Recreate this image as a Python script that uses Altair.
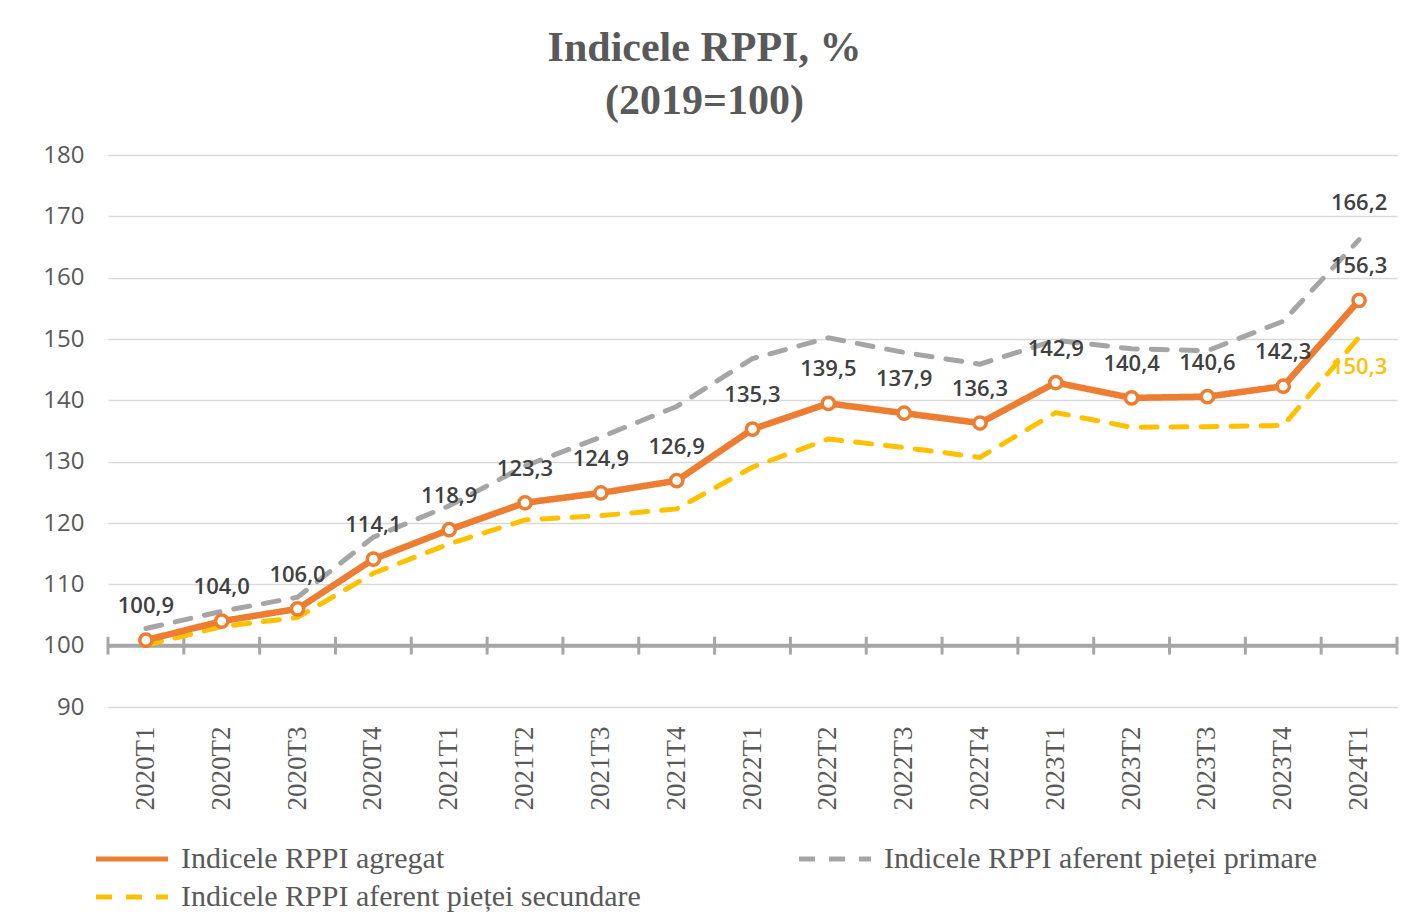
import altair as alt
import pandas as pd

quarters = ["2020T1", "2020T2", "2020T3", "2020T4", "2021T1", "2021T2", "2021T3", "2021T4",
            "2022T1", "2022T2", "2022T3", "2022T4", "2023T1", "2023T2", "2023T3", "2023T4", "2024T1"]
agregat = [100.9, 104.0, 106.0, 114.1, 118.9, 123.3, 124.9, 126.9, 135.3, 139.5, 137.9, 136.3,
           142.9, 140.4, 140.6, 142.3, 156.3]
primara = [102.8, 105.6, 107.9, 117.7, 122.8, 129.3, 134.0, 139.0, 146.8, 150.2, 147.8, 145.9,
           149.8, 148.4, 148.1, 152.9, 166.2]
secundara = [100.1, 103.1, 104.6, 111.8, 116.6, 120.5, 121.2, 122.3, 129.1, 133.7, 132.3, 130.7,
             138.0, 135.6, 135.7, 135.9, 150.3]

S_AGR = "Indicele RPPI agregat"
S_PRI = "Indicele RPPI aferent pieței primare"
S_SEC = "Indicele RPPI aferent pieței secundare"
# legend fills column by column: agregat / secundare in the first column, primare in the second
series_names = [S_AGR, S_SEC, S_PRI]
series_colors = ["#ED7D31", "#FFC000", "#A5A5A5"]
series_dash = [[1, 0], [16, 14], [16, 14]]

rows = []
for name, vals in [(S_AGR, agregat), (S_PRI, primara), (S_SEC, secundara)]:
    for q, v in zip(quarters, vals):
        rows.append({"quarter": q, "series": name, "value": v,
                     "label": f"{v:.1f}".replace(".", ",")})
df = pd.DataFrame(rows)

xscale = alt.Scale(type="band", domain=quarters, paddingInner=0, paddingOuter=0)
yscale = alt.Scale(domain=[90, 180], nice=False, zero=False)

X = alt.X("quarter:N", scale=xscale, bandPosition=0.5,
          axis=alt.Axis(title=None, labelAngle=270, labelAlign="right", labelBaseline="middle",
                        labelPadding=19, domain=False, ticks=False, grid=False,
                        labelFont="Liberation Serif", labelFontSize=27, labelColor="#595959"))
Y = alt.Y("value:Q", scale=yscale,
          axis=alt.Axis(title=None, values=list(range(90, 190, 10)), domain=False, ticks=False,
                        labelPadding=24, labelFont="Open Sans", labelFontSize=24,
                        labelColor="#595959", gridColor="#D9D9D9", gridWidth=1.5))

legend = alt.Legend(title=None, orient="none", legendX=9, legendY=689, columns=2,
                    columnPadding=148, rowPadding=8, symbolType="M-3.6,0H3.6", symbolSize=400,
                    symbolStrokeWidth=5, labelFont="Liberation Serif", labelFontSize=30,
                    labelColor="#595959", labelOffset=34, labelLimit=800)
color = alt.Color("series:N", scale=alt.Scale(domain=series_names, range=series_colors), legend=legend)
dash = alt.StrokeDash("series:N", scale=alt.Scale(domain=series_names, range=series_dash), legend=legend)

base = alt.Chart(df)

axis_rule = alt.Chart(pd.DataFrame({"v": [100]})).mark_rule(color="#A6A6A6", strokeWidth=4).encode(
    y=alt.Y("v:Q", scale=yscale))

tick_df = pd.DataFrame({"quarter": quarters})
ticks_a = alt.Chart(tick_df).mark_rule(color="#A6A6A6", strokeWidth=3).encode(
    x=alt.X("quarter:N", scale=xscale, bandPosition=0),
    y=alt.datum(98.55), y2=alt.datum(101.45))
ticks_b = alt.Chart(tick_df.tail(1)).mark_rule(color="#A6A6A6", strokeWidth=3).encode(
    x=alt.X("quarter:N", scale=xscale, bandPosition=1),
    y=alt.datum(98.55), y2=alt.datum(101.45))

line_pri = base.transform_filter(alt.datum.series == S_PRI).mark_line(
    strokeWidth=5, strokeCap="round").encode(x=X, y=Y, color=color, strokeDash=dash)
line_sec = base.transform_filter(alt.datum.series == S_SEC).mark_line(
    strokeWidth=5, strokeCap="round").encode(x=X, y=Y, color=color, strokeDash=dash)
line_agr = base.transform_filter(alt.datum.series == S_AGR).mark_line(
    strokeWidth=6.5, strokeCap="round", strokeJoin="round").encode(x=X, y=Y, color=color, strokeDash=dash)
pts_agr = base.transform_filter(alt.datum.series == S_AGR).mark_point(
    filled=True, fill="white", stroke="#ED7D31", strokeWidth=3.5, size=150, opacity=1).encode(x=X, y=Y)

txt_agr = base.transform_filter(alt.datum.series == S_AGR).mark_text(
    dy=-34, font="Open Sans", fontSize=22, fontWeight=600, color="#404040").encode(
    x=X, y=Y, text="label:N")
txt_pri = base.transform_filter(
    (alt.datum.series == S_PRI) & (alt.datum.quarter == quarters[-1])).mark_text(
    dy=-37, font="Open Sans", fontSize=22, fontWeight=600, color="#404040").encode(
    x=X, y=Y, text="label:N")
txt_sec = base.transform_filter(
    (alt.datum.series == S_SEC) & (alt.datum.quarter == quarters[-1])).mark_text(
    dy=30, font="Open Sans", fontSize=22, fontWeight=600, color="#FFC000").encode(
    x=X, y=Y, text="label:N")

chart = alt.layer(
    axis_rule, ticks_a, ticks_b, line_pri, line_sec, line_agr, pts_agr, txt_agr, txt_pri, txt_sec
).properties(
    width=1289, height=552,
    title=alt.TitleParams(["Indicele RPPI, %", "(2019=100)"], font="Liberation Serif",
                          fontSize=42, fontWeight="bold", color="#595959", lineHeight=53,
                          anchor="middle", dx=-48, offset=20),
    autosize=alt.AutoSizeParams(type="none"),
    padding={"left": 100, "top": 147, "right": 12, "bottom": 205},
).configure(background="white").configure_view(strokeWidth=0)

chart.save("out.html", embed_options={"renderer": "svg", "actions": False})
